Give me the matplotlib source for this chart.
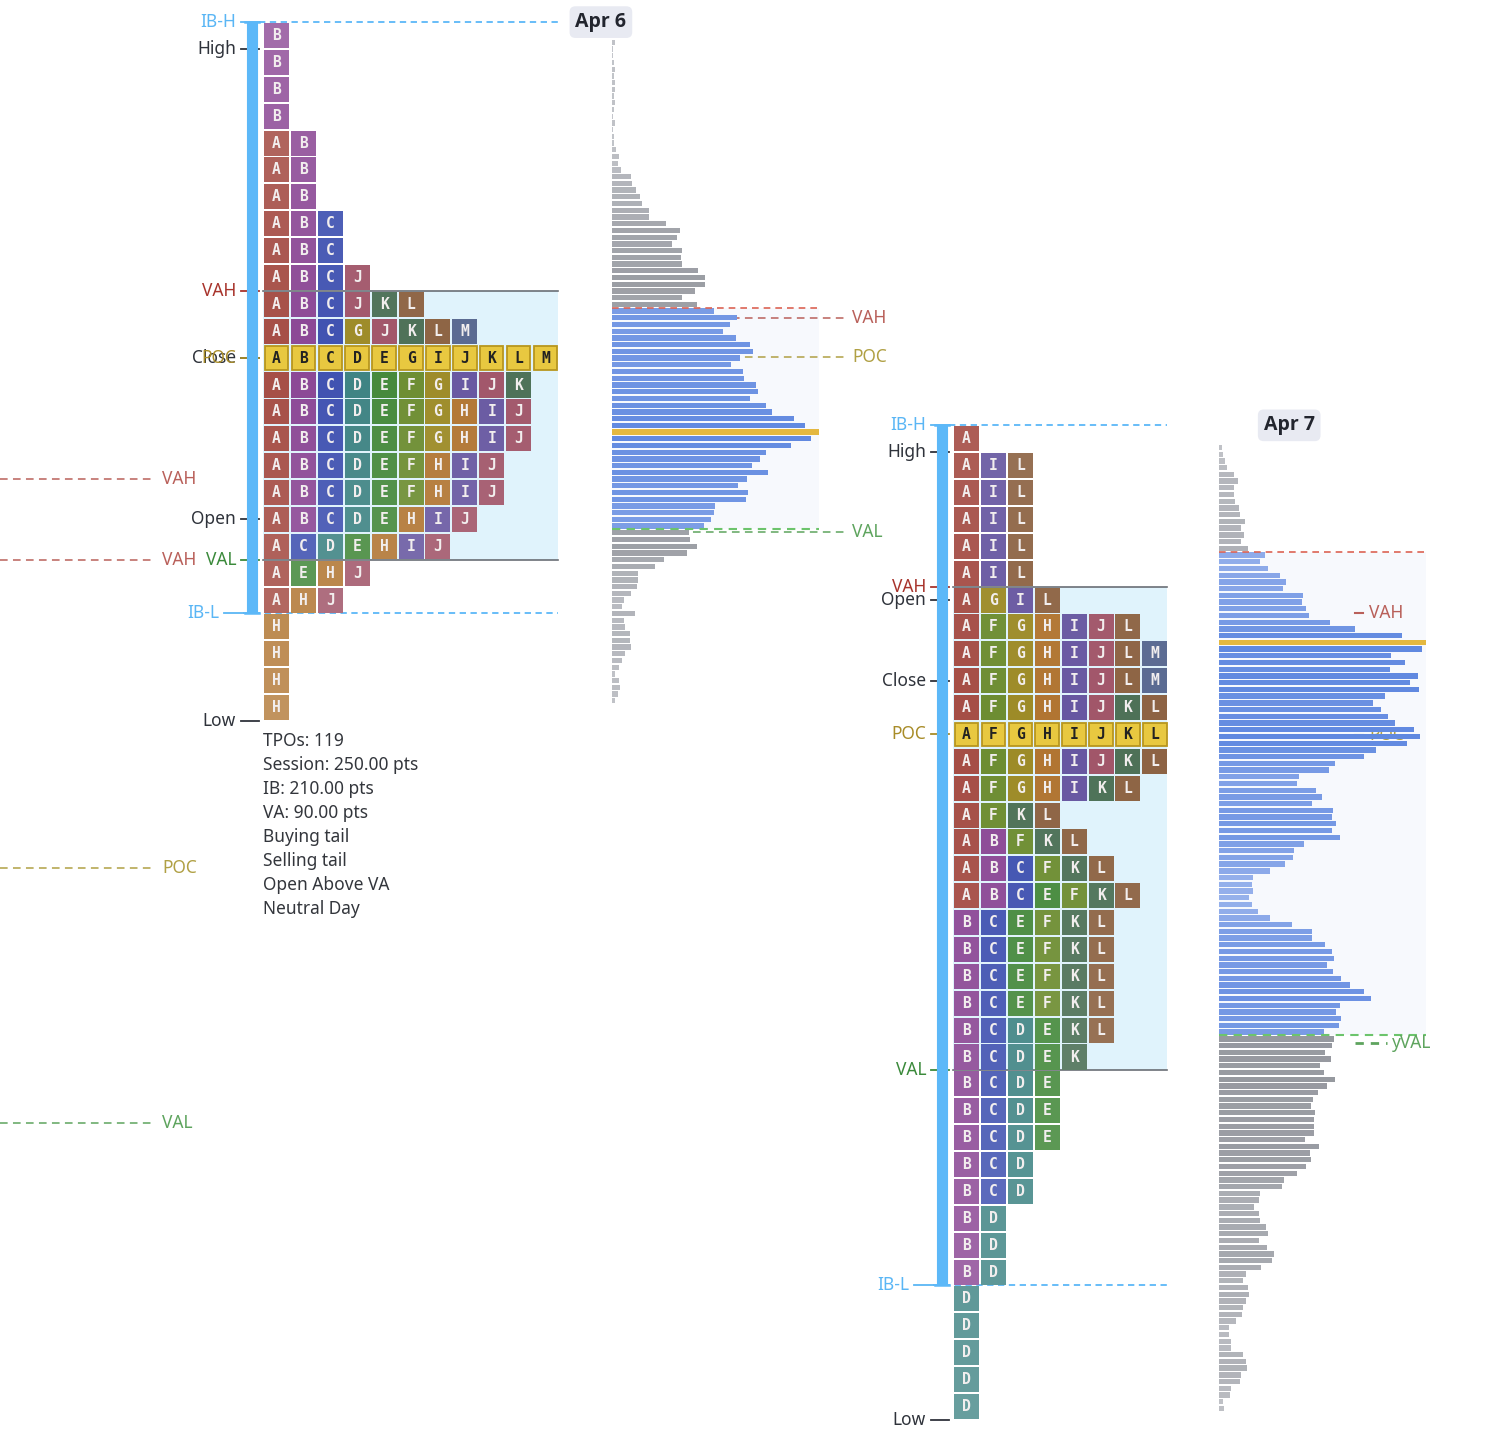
import matplotlib
matplotlib.use("Agg")
import matplotlib.pyplot as plt
import numpy as np
from matplotlib.colors import to_rgb

plt.rcParams['font.family'] = ['Noto Sans', 'DejaVu Sans']

# ---------------- data ----------------
dates = ["Apr 6", "Apr 7"]
tick_size = 10
bin_size = 2.5

# TPO rows, from the session high downward (one row per 10 pts)
apr6_high = 5250
apr6_rows = ["B", "B", "B", "B", "AB", "AB", "AB", "ABC", "ABC", "ABCJ", "ABCJKL",
             "ABCGJKLM", "ABCDEGIJKLM", "ABCDEFGIJK", "ABCDEFGHIJ", "ABCDEFGHIJ",
             "ABCDEFHIJ", "ABCDEFHIJ", "ABCDEHIJ", "ACDEHIJ", "AEHJ", "AHJ",
             "H", "H", "H", "H"]
apr7_high = 5100
apr7_rows = ["A", "AIL", "AIL", "AIL", "AIL", "AIL", "AGIL", "AFGHIJL", "AFGHIJLM",
             "AFGHIJLM", "AFGHIJKL", "AFGHIJKL", "AFGHIJKL", "AFGHIKL", "AFKL",
             "ABFKL", "ABCFKL", "ABCEFKL", "BCEFKL", "BCEFKL", "BCEFKL", "BCEFKL",
             "BCDEKL", "BCDEK", "BCDE", "BCDE", "BCDE", "BCD", "BCD", "BD", "BD",
             "BD", "D", "D", "D", "D", "D"]

# session reference levels (axis labels)
level_names = ["IB-H", "High", "VAH", "Close", "POC", "Open", "VAL", "IB-L", "Low"]
apr6_levels = [5260, 5250, 5160, 5135, 5135, 5075, 5060, 5040, 5000]
apr7_levels = [5110, 5100, 5050, 5015, 4995, 5045, 4870, 4790, 4740]

# volume profile (top bin first)
apr6_vol_top = 5252.5
apr6_vol = [9, 3, 3, 6, 9, 6, 9, 9, 6, 9, 6, 3, 9, 3, 6, 6, 12, 21, 18, 27,
            57, 60, 72, 84, 90, 111, 111, 162, 204, 195, 180, 210, 207, 210, 258, 279,
            279, 249, 210, 255,
            306, 375, 354, 333, 372, 414, 423, 384, 357, 393, 396, 432, 438, 414, 462,
            480, 546, 579, 621, 597, 537, 462, 444, 420, 468, 405, 378, 408, 402, 309,
            306, 297, 276,
            231, 234, 255, 225, 156, 129, 78, 78, 75, 57, 36, 30, 69, 36, 39, 54, 54,
            57, 39, 30, 21, 9, 21, 24, 18, 9]
apr6_va_bins = [40, 72]

apr7_vol_top = 5101.75
apr7_vol = [9, 12, 18, 24, 45, 57, 45, 45, 48, 60, 63, 78, 66, 75, 66, 87,
            138, 123, 147, 183, 201, 192, 252, 249, 261, 270, 333, 408, 549, 621,
            609, 516, 558, 513, 597, 573, 600, 498, 462, 486, 507, 528, 585, 603, 564,
            471, 435, 348, 330, 240, 234, 291, 309, 279, 342, 339, 351, 339, 363, 255,
            225, 222, 198, 153, 102, 99, 102, 90, 99, 117, 153, 219, 279, 279, 318,
            339, 345, 324, 342, 366, 393, 435, 456, 363, 351, 366, 360, 315,
            345, 339, 318, 336, 303, 315, 348, 324, 297, 282, 276, 288, 285, 285, 285,
            258, 300, 273, 276, 261, 234, 195, 189, 123, 120, 105, 120, 123, 141, 147,
            120, 144, 165, 159, 126, 81, 72, 87, 90, 81, 72, 69, 51, 30, 30, 36, 36,
            72, 81, 84, 66, 63, 36, 33, 12, 15]
apr7_va_bins = [16, 87]

# labels next to the volume profiles
apr6_hist_names = ["VAH", "POC", "VAL"]
apr6_hist_prices = [5150, 5135.4, 5070.3]
apr7_hist_names = ["VAH", "POC", "yVAL"]
apr7_hist_prices = [5040.2, 4994.8, 4880.2]

# earlier-session references coming in from the left
prev_names = ["VAH", "VAH", "POC", "VAL"]
prev_prices = [5090, 5060, 4945.3, 4850.4]

apr6_stats = ["TPOs: 119", "Session: 250.00 pts", "IB: 210.00 pts", "VA: 90.00 pts",
              "Buying tail", "Selling tail", "Open Above VA", "Neutral Day"]

# ---------------- style ----------------
letter_colors = {"A": "#a44c44", "B": "#8a4694", "C": "#3e50b0", "D": "#3c8282",
                 "E": "#43883a", "F": "#6c8c30", "G": "#9c8a26", "H": "#b07430",
                 "I": "#6656a0", "J": "#a05468", "K": "#4c7056", "L": "#8c6242",
                 "M": "#586890"}
name_colors = {"IB-H": "#5ab6f5", "IB-L": "#5ab6f5", "High": "#2f333b", "Low": "#2f333b",
               "Open": "#2f333b", "Close": "#2f333b", "VAH": "#a8342c", "VAL": "#3b8a3b",
               "POC": "#a88c28"}
soft_colors = {"VAH": "#b9605a", "POC": "#b0a044", "VAL": "#5ea45e", "yVAL": "#5ea45e"}
IBC = "#5cb8f8"
FS = 12.5

W, H = 1492, 1432
px_per_pt = 2.688
y_top = 5000 + 721 / px_per_pt
y_bot = 5000 - (H - 721) / px_per_pt

fig = plt.figure(figsize=(W / 100, H / 100), dpi=100)
ax = fig.add_axes([0, 0, 1, 1])
ax.set_xlim(0, W)
ax.set_ylim(y_bot, y_top)
ax.axis('off')


def mix(c1, c2, t):
    a, b = to_rgb(c1), to_rgb(c2)
    return tuple(x + (y - x) * t for x, y in zip(a, b))


def pts(px):
    return px / px_per_pt


def draw_tpo(rows, high, levels, x0):
    pitch, bw = 26.9, 25
    lv = dict(zip(level_names, levels))
    ncols = max(len(r) for r in rows)
    box_r = x0 + ncols * pitch - 2
    vah, val, ibh, ibl, poc = lv["VAH"], lv["VAL"], lv["IB-H"], lv["IB-L"], lv["POC"]
    # value area box
    ax.fill_between([x0 - 1, box_r], val, vah, color="#e0f3fc", lw=0, zorder=1)
    for y in (vah, val):
        ax.plot([x0 - 1, box_r], [y, y], color="#6a6e75", lw=1.2, zorder=2)
    # IB dashed lines
    ax.plot([x0 - 5, box_r], [ibh, ibh], color=IBC, lw=1.3, ls=(0, (3.5, 2.5)), zorder=2)
    ax.plot([x0 - 21, box_r], [ibl, ibl], color=IBC, lw=1.3, ls=(0, (3.5, 2.5)), zorder=2)
    # IB bar
    bx = x0 - 12.5
    ax.plot([bx, bx], [ibl, ibh], color=IBC, lw=8, solid_capstyle='butt', zorder=2.5)
    for y in (ibl, ibh):
        ax.plot([bx - 7, bx + 7], [y, y], color=IBC, lw=1.8, zorder=2.5)
    # axis labels with ticks
    for name, p in zip(level_names, levels):
        c = name_colors[name]
        if name == "IB-L":
            ax.plot([x0 - 40, x0 - 21], [p, p], color=c, lw=1.3, zorder=2)
            tx = x0 - 45
        else:
            ax.plot([x0 - 23, x0 - 5], [p, p], color=c, lw=1.3, zorder=1.5)
            tx = x0 - 28
        ax.text(tx, p, name, ha='right', va='center', color=c, fontsize=FS, zorder=4,
                fontweight='medium')
    # blocks
    poc_i = int(round((high - (poc - poc % tick_size)) / tick_size))
    dmax = max(poc_i, len(rows) - 1 - poc_i)
    for i, r in enumerate(rows):
        p = high - i * tick_size
        t = 0.22 * abs(i - poc_i) / dmax
        for j, ch in enumerate(r):
            cx = x0 + j * pitch + bw / 2
            if i == poc_i:
                ax.bar(cx, pts(23.5), bottom=p + tick_size / 2 - pts(23.5) / 2, width=bw - 1.5,
                       color="#e8c840", edgecolor="#b8961e", linewidth=1.3, zorder=3)
                tc = "#222222"
            else:
                ax.bar(cx, pts(25), bottom=p + tick_size / 2 - pts(25) / 2, width=bw,
                       color=mix(letter_colors[ch], "#ffffff", t), lw=0, zorder=3)
                tc = "#f2eeee"
            ax.text(cx, p + tick_size / 2, ch, ha='center', va='center', color=tc,
                    fontsize=10.5, fontweight='bold', family='DejaVu Sans Mono', zorder=4)
    return box_r


def draw_hist(vol, top, va_bins, hx0, hw):
    vol = np.array(vol, dtype=float)
    prices = top - bin_size * np.arange(len(vol))
    scale = hw / vol.max()
    poc_i = int(np.argmax(vol))
    va_hi = prices[va_bins[0]] + bin_size / 2
    va_lo = prices[va_bins[1]] - bin_size / 2
    ax.fill_between([hx0, hx0 + hw], va_lo, va_hi, color="#f7f9fd", lw=0, zorder=0.5)
    cols = []
    for k, v in enumerate(vol):
        t = np.sqrt(v / vol.max())
        if k == poc_i:
            cols.append("#e4b840")
        elif va_bins[0] <= k <= va_bins[1]:
            cols.append(mix("#b8caf2", "#5f88e0", t))
        else:
            cols.append(mix("#c8cacf", "#85888f", t))
    ax.barh(prices, vol * scale, height=pts(5.3), left=hx0, color=cols, lw=0, zorder=3)
    ax.plot([hx0, hx0 + hw], [va_hi, va_hi], color="#dc6454", lw=1.2, ls=(0, (4, 3)), zorder=3.5)
    ax.plot([hx0, hx0 + hw], [va_lo, va_lo], color="#6cc46c", lw=1.5, ls=(0, (4, 3)), zorder=3.5)


def date_label(text, x, y):
    ax.text(x, y, text, ha='center', va='center', fontsize=14, fontweight='bold',
            family=['Open Sans', 'DejaVu Sans'], color="#22252e", zorder=5,
            bbox=dict(boxstyle="round,pad=0.3,rounding_size=0.3", fc="#e8eaf2", ec="none"))


# ---------------- Apr 6 ----------------
x6 = 264
box6 = draw_tpo(apr6_rows, apr6_high, apr6_levels, x6)
h6 = box6 + 54
draw_hist(apr6_vol, apr6_vol_top, apr6_va_bins, h6, 207)
for name, p in zip(apr6_hist_names, apr6_hist_prices):
    c = soft_colors[name]
    ax.plot([h6 + 55, h6 + 236], [p, p], color=c, lw=1.1, ls=(0, (5, 3.5)), zorder=2)
    ax.text(h6 + 240, p, name, ha='left', va='center', color=c, fontsize=FS, zorder=4)
date_label(dates[0], h6 - 11, apr6_levels[0])
for k, s in enumerate(apr6_stats):
    ax.text(x6 - 1, apr6_levels[-1] - pts(20 + 24 * k), s, ha='left', va='center',
            color="#33363c", fontsize=FS, zorder=4)

# ---------------- Apr 7 ----------------
x7 = 954
box7 = draw_tpo(apr7_rows, apr7_high, apr7_levels, x7)
h7 = box7 + 52
draw_hist(apr7_vol, apr7_vol_top, apr7_va_bins, h7, 207)
for name, p in zip(apr7_hist_names, apr7_hist_prices):
    c = soft_colors[name]
    if name == "yVAL":
        ax.plot([h7 + 136, h7 + 168], [p, p], color=c, lw=2, ls=(0, (3, 2.5)), zorder=2)
        ax.text(h7 + 173, p, name, ha='left', va='center', color=c, fontsize=FS, zorder=4)
    else:
        z = 2.8 if name == "POC" else 4
        ax.plot([h7 + 136, h7 + 144], [p, p], color=c, lw=1.5, zorder=z)
        ax.text(h7 + 150, p, name, ha='left', va='center', color=c, fontsize=FS, zorder=z)
date_label(dates[1], h7 + 70, apr7_levels[0])

# ---------------- earlier references on the left ----------------
for name, p in zip(prev_names, prev_prices):
    c = soft_colors[name]
    ax.plot([0, 155], [p, p], color=c, lw=1.1, ls=(0, (5, 3.5)), zorder=2)
    ax.text(162, p, name, ha='left', va='center', color=c, fontsize=FS, zorder=4)

fig.savefig("out.png", dpi=100)
